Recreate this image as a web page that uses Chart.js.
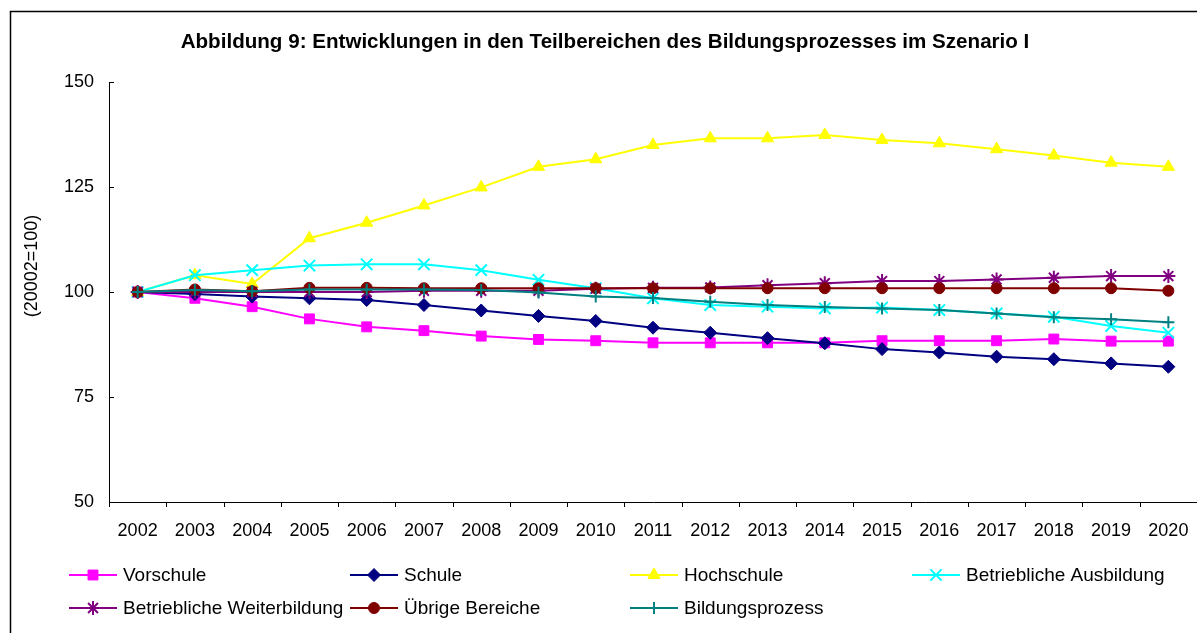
<!DOCTYPE html>
<html>
<head>
<meta charset="utf-8">
<script src="https://cdn.jsdelivr.net/npm/chart.js@4/dist/chart.umd.min.js"></script>
<style>
html, body { margin: 0; padding: 0; background: #fff; }
#wrap { width: 1197px; height: 633px; }
</style>
</head>
<body>
<div id="wrap"><canvas id="chart" width="1197" height="633"></canvas></div>
<script>
// data (index 2002 = 100)
var years = ['2002', '2003', '2004', '2005', '2006', '2007', '2008', '2009', '2010', '2011',
             '2012', '2013', '2014', '2015', '2016', '2017', '2018', '2019', '2020'];
var vorschule = [100, 98.5, 96.5, 93.6, 91.7, 90.8, 89.5, 88.7, 88.4, 87.9, 87.9, 87.9, 87.9, 88.4, 88.4, 88.4, 88.8, 88.3, 88.3];
var schule = [100, 99.5, 98.9, 98.5, 98.1, 96.9, 95.6, 94.3, 93.1, 91.5, 90.3, 89.0, 87.8, 86.4, 85.6, 84.6, 84.0, 83.0, 82.2];
var hochschule = [100, 104.0, 101.9, 112.8, 116.5, 120.6, 124.9, 129.8, 131.6, 135.0, 136.6, 136.6, 137.4, 136.2, 135.4, 134.0, 132.5, 130.8, 129.8];
var ausbildung = [100, 104.0, 105.2, 106.3, 106.6, 106.6, 105.2, 102.9, 100.9, 98.5, 96.9, 96.5, 96.1, 96.3, 95.7, 94.9, 94.1, 91.9, 90.3];
var weiterbildung = [100, 100, 100, 100, 100, 100.3, 100.3, 100.3, 100.8, 101.0, 101.1, 101.6, 102.1, 102.6, 102.6, 103.0, 103.4, 103.8, 103.8];
var uebrige = [100, 100.6, 100.2, 101.0, 101.0, 100.9, 100.9, 100.9, 100.9, 100.9, 100.9, 100.9, 100.9, 100.9, 100.9, 100.9, 100.9, 100.9, 100.3];
var bildung = [100, 100.5, 100.2, 100.6, 100.6, 100.6, 100.5, 99.9, 98.9, 98.6, 97.7, 96.9, 96.4, 96.1, 95.7, 94.9, 94.0, 93.5, 92.8];
var yTicks = [50, 75, 100, 125, 150];

var titleText = 'Abbildung 9: Entwicklungen in den Teilbereichen des Bildungsprozesses im Szenario I';
var yTitle = '(20002=100)';
var FONT = '"Liberation Sans", Arial, sans-serif';

function series(label, data, color, style, radius, bw) {
    return {
        label: label,
        data: data,
        borderColor: color,
        backgroundColor: color,
        borderWidth: 2,
        tension: 0,
        pointStyle: style,
        pointRadius: radius,
        pointHoverRadius: radius,
        pointBorderWidth: bw,
        pointBackgroundColor: color,
        pointBorderColor: color
    };
}

var datasets = [
    series('Vorschule', vorschule, '#FF00FF', 'rect', 7, 1),
    series('Schule', schule, '#000080', 'rectRot', 6.5, 1),
    series('Hochschule', hochschule, '#FFFF00', 'triangle', 7, 1),
    series('Betriebliche Ausbildung', ausbildung, '#00FFFF', 'crossRot', 8, 2),
    series('Betriebliche Weiterbildung', weiterbildung, '#800080', 'star', 7, 2),
    series('Übrige Bereiche', uebrige, '#800000', 'circle', 5.5, 1),
    series('Bildungsprozess', bildung, '#008080', 'cross', 6, 2)
];
// later series on top, like the original
datasets.forEach(function (d, i) { d.order = datasets.length - 1 - i; });

var legendX = [69, 350, 630, 912];
var legendY = [575, 608];

var decor = {
    id: 'decor',
    beforeDraw: function (chart) {
        var ctx = chart.ctx;
        ctx.save();
        ctx.fillStyle = '#fff';
        ctx.fillRect(0, 0, chart.width, chart.height);
        ctx.strokeStyle = '#000';
        ctx.lineWidth = 1.5;
        ctx.beginPath();
        ctx.moveTo(10.5, chart.height);
        ctx.lineTo(10.5, 11.5);
        ctx.lineTo(chart.width, 11.5);
        ctx.stroke();
        ctx.restore();
    },
    afterDraw: function (chart) {
        var ctx = chart.ctx, xs = chart.scales.x, ys = chart.scales.y, area = chart.chartArea;
        ctx.save();
        ctx.strokeStyle = '#000';
        ctx.lineWidth = 1;
        // y tick marks point inwards
        ys.ticks.forEach(function (t) {
            var py = Math.round(ys.getPixelForValue(t.value)) + 0.5;
            ctx.beginPath();
            ctx.moveTo(area.left, py);
            ctx.lineTo(area.left + 5, py);
            ctx.stroke();
        });
        // x tick marks between the categories, pointing down
        for (var i = 0; i <= years.length; i++) {
            var px = Math.round(xs.getPixelForValue(i - 0.5)) + 0.5;
            ctx.beginPath();
            ctx.moveTo(px, area.bottom);
            ctx.lineTo(px, area.bottom + 5);
            ctx.stroke();
        }
        // title
        ctx.fillStyle = '#000';
        ctx.font = 'bold 20.6px ' + FONT;
        ctx.textAlign = 'center';
        ctx.textBaseline = 'alphabetic';
        ctx.fillText(titleText, 605, 48);
        // y axis title
        ctx.save();
        ctx.translate(32, 266);
        ctx.rotate(-Math.PI / 2);
        ctx.font = '18px ' + FONT;
        ctx.textBaseline = 'middle';
        ctx.fillText(yTitle, 0, 0);
        ctx.restore();
        // legend, 4 columns
        chart.data.datasets.forEach(function (ds, i) {
            var x0 = legendX[i % 4], y0 = legendY[Math.floor(i / 4)];
            ctx.strokeStyle = ds.borderColor;
            ctx.lineWidth = 2;
            ctx.beginPath();
            ctx.moveTo(x0, y0);
            ctx.lineTo(x0 + 48, y0);
            ctx.stroke();
            ctx.fillStyle = ds.pointBackgroundColor;
            ctx.strokeStyle = ds.pointBorderColor;
            ctx.lineWidth = ds.pointBorderWidth;
            Chart.helpers.drawPoint(ctx, {
                pointStyle: ds.pointStyle,
                radius: ds.pointRadius,
                borderWidth: ds.pointBorderWidth,
                rotation: 0
            }, x0 + 24, y0);
            ctx.fillStyle = '#000';
            ctx.font = '19px ' + FONT;
            ctx.textAlign = 'left';
            ctx.textBaseline = 'middle';
            ctx.fillText(ds.label, x0 + 54, y0 + 1);
        });
        ctx.restore();
    }
};

var ctx = document.getElementById('chart').getContext('2d');
var chart = new Chart(ctx, {
    type: 'line',
    data: {
        labels: years,
        datasets: datasets
    },
    options: {
        responsive: false,
        animation: false,
        devicePixelRatio: 1,
        layout: { autoPadding: false, padding: { left: 0, right: 0, top: 82, bottom: 81 } },
        plugins: {
            legend: { display: false },
            title: { display: false },
            tooltip: { enabled: false }
        },
        scales: {
            x: {
                offset: true,
                grid: { display: true, offset: true, drawOnChartArea: false, drawTicks: true, tickLength: 18, color: 'rgba(0,0,0,0)' },
                border: { display: true, color: '#000', width: 1 },
                ticks: { color: '#000', font: { family: FONT, size: 18 }, padding: 0, maxRotation: 0, autoSkip: false },
                afterFit: function (s) { s.height = 50; }
            },
            y: {
                min: 50,
                max: 150,
                afterBuildTicks: function (s) { s.ticks = yTicks.map(function (v) { return { value: v }; }); },
                grid: { display: false, drawTicks: false },
                border: { display: true, color: '#000', width: 1 },
                ticks: { color: '#000', font: { family: FONT, size: 18 }, padding: 15 },
                afterFit: function (s) { s.width = 109; }
            }
        }
    },
    plugins: [decor]
});
</script>
</body>
</html>
